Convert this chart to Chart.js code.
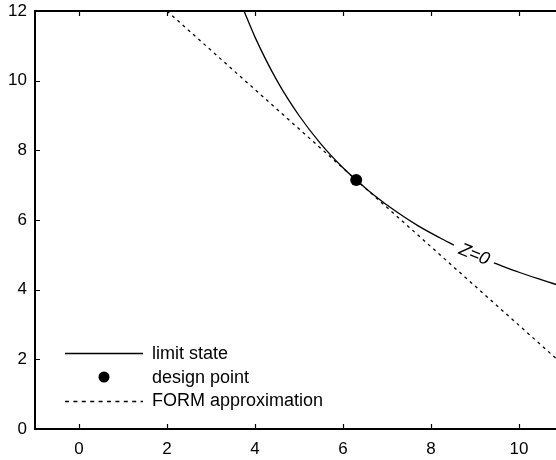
<!DOCTYPE html>
<html>
<head>
<meta charset="utf-8">
<script src="https://cdn.jsdelivr.net/npm/chart.js@4/dist/chart.umd.min.js"></script>
<style>
  html, body { margin: 0; padding: 0; background: #fff; overflow: hidden; }
  #wrap { width: 620px; height: 460px; }
</style>
</head>
<body>
<div id="wrap"><canvas id="c" width="620" height="460"></canvas></div>
<script>
// Tick labels
const xTicks = [0, 2, 4, 6, 8, 10, 12];
const yTicks = [0, 2, 4, 6, 8, 10, 12];

// Limit state curve Z = 0 (broken where the "Z=0" label sits)
const limitX = [3.75, 4.0, 4.5, 5.0, 5.5, 6.0, 6.3, 6.7, 7.2, 7.7, 8.2, 8.52, 9.0, 9.43, 10.0, 10.5, 11.0, 11.5, 12.0];
const limitY = [12.0, 11.25, 10.0, 9.0, 8.18, 7.5, 7.15, 6.72, 6.25, 5.84, 5.49, 5.28, null, 4.77, 4.5, 4.29, 4.09, 3.91, 3.75];

// FORM linear approximation (tangent at the design point)
const formX = [2.0, 12.0];
const formY = [12.0, 0.72];

// Design point
const designX = [6.3];
const designY = [7.15];

// Position of the curve label
const zLabelX = 8.98;
const zLabelY = 5.0;

const toPoints = (xs, ys) => xs.map((x, i) => ({ x: x, y: ys[i] }));

const FONT = '"Liberation Sans", Arial, Helvetica, sans-serif';

const framePlugin = {
  id: 'frame',
  afterDraw(chart) {
    const ctx = chart.ctx;
    const xs = chart.scales.x, ys = chart.scales.y;
    const a = chart.chartArea;
    ctx.save();
    ctx.strokeStyle = '#000';
    // top border
    ctx.lineWidth = 2;
    ctx.beginPath();
    ctx.moveTo(a.left - 1, a.top);
    ctx.lineTo(a.right, a.top);
    ctx.stroke();
    // inward ticks
    ctx.lineWidth = 1.2;
    ctx.beginPath();
    xTicks.forEach(v => {
      const p = Math.round(xs.getPixelForValue(v)) + 0.5;
      ctx.moveTo(p, a.bottom); ctx.lineTo(p, a.bottom - 5);
      ctx.moveTo(p, a.top); ctx.lineTo(p, a.top + 5);
    });
    yTicks.forEach(v => {
      const p = Math.round(ys.getPixelForValue(v)) + 0.5;
      ctx.moveTo(a.left, p); ctx.lineTo(a.left + 5, p);
      ctx.moveTo(a.right, p); ctx.lineTo(a.right - 5, p);
    });
    ctx.stroke();

    // curve label
    const lx = xs.getPixelForValue(zLabelX), ly = ys.getPixelForValue(zLabelY);
    ctx.translate(lx, ly);
    ctx.rotate(22 * Math.PI / 180);
    ctx.fillStyle = '#000';
    ctx.font = 'italic 18px ' + FONT;
    ctx.textAlign = 'center';
    ctx.textBaseline = 'middle';
    ctx.fillText('Z=0', 0, 0);
    ctx.restore();

    // legend
    ctx.save();
    ctx.strokeStyle = '#000';
    ctx.fillStyle = '#000';
    ctx.lineWidth = 1.3;
    ctx.beginPath();
    ctx.moveTo(65, 353.5); ctx.lineTo(143, 353.5);
    ctx.stroke();
    ctx.beginPath();
    ctx.arc(104, 377, 5.5, 0, Math.PI * 2);
    ctx.fill();
    ctx.setLineDash([4, 4.4]);
    ctx.beginPath();
    ctx.moveTo(65, 401.5); ctx.lineTo(143, 401.5);
    ctx.stroke();
    ctx.setLineDash([]);
    ctx.font = '18px ' + FONT;
    ctx.textAlign = 'left';
    ctx.textBaseline = 'middle';
    ctx.fillText('limit state', 152, 354);
    ctx.fillText('design point', 152, 378);
    ctx.fillText('FORM approximation', 152, 401);
    ctx.restore();
  }
};

new Chart(document.getElementById('c'), {
  type: 'scatter',
  data: {
    datasets: [
      {
        label: 'limit state',
        data: toPoints(limitX, limitY),
        showLine: true,
        borderColor: '#000',
        borderWidth: 1.3,
        pointRadius: 0,
        cubicInterpolationMode: 'monotone',
        spanGaps: false
      },
      {
        label: 'FORM approximation',
        data: toPoints(formX, formY),
        showLine: true,
        borderColor: '#000',
        borderWidth: 1.3,
        borderDash: [3, 4],
        pointRadius: 0
      },
      {
        label: 'design point',
        data: toPoints(designX, designY),
        showLine: false,
        pointRadius: 6,
        pointBackgroundColor: '#000',
        pointBorderColor: '#000',
        borderWidth: 0
      }
    ]
  },
  options: {
    responsive: false,
    devicePixelRatio: 1,
    animation: false,
    events: [],
    layout: { padding: { top: 11, right: 13, left: 0, bottom: 0 } },
    plugins: { legend: { display: false }, tooltip: { enabled: false } },
    scales: {
      x: {
        type: 'linear',
        min: -1,
        max: 12,
        afterBuildTicks: s => { s.ticks = xTicks.map(v => ({ value: v })); },
        afterFit: s => { s.height = 31; s.paddingLeft = 0; s.paddingRight = 0; },
        grid: { display: false, drawTicks: false },
        border: { display: true, color: '#000', width: 2 },
        ticks: { color: '#000', padding: 10, font: { family: FONT, size: 17 } }
      },
      y: {
        type: 'linear',
        min: 0,
        max: 12,
        afterBuildTicks: s => { s.ticks = yTicks.map(v => ({ value: v })); },
        afterFit: s => { s.width = 35; s.paddingTop = 0; s.paddingBottom = 0; },
        grid: { display: false, drawTicks: false },
        border: { display: true, color: '#000', width: 2 },
        ticks: { color: '#000', padding: 8, font: { family: FONT, size: 17 } }
      }
    }
  },
  plugins: [framePlugin]
});
</script>
</body>
</html>
